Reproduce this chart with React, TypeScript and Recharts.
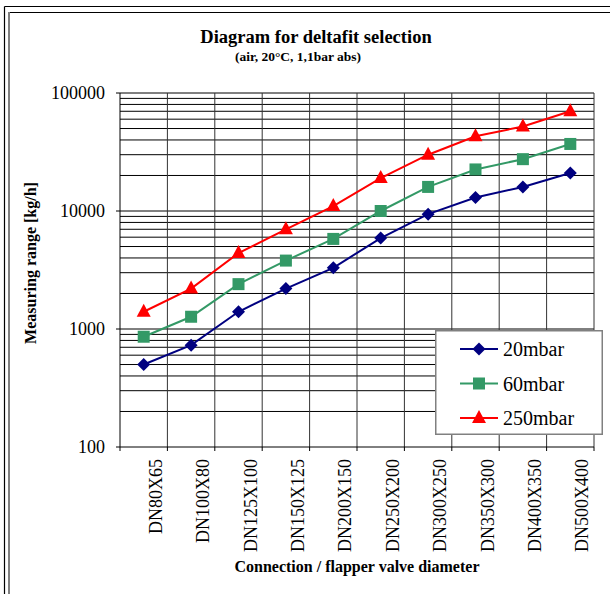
import React from 'react';
import { LineChart, Line, XAxis, YAxis, ReferenceLine, Legend } from 'recharts';

const FONT = '"Liberation Serif", "Times New Roman", Times, serif';

const categories = ['DN80X65', 'DN100X80', 'DN125X100', 'DN150X125', 'DN200X150', 'DN250X200', 'DN300X250', 'DN350X300', 'DN400X350', 'DN500X400'];
const mbar20 = [500, 730, 1400, 2200, 3300, 5900, 9400, 13000, 16000, 21000];
const mbar60 = [860, 1270, 2400, 3800, 5800, 10000, 16000, 22500, 27500, 37000];
const mbar250 = [1400, 2200, 4400, 7000, 11000, 19000, 30000, 43000, 52000, 70000];

const yTicks = [100, 1000, 10000, 100000];
const boundaryTicks = [0, 1, 2, 3, 4, 5, 6, 7, 8, 9, 10];
const multiples = [1, 2, 3, 4, 5, 6, 7, 8, 9];

const series = [
    { key: 'mbar20', name: '20mbar', color: '#000080', shape: 'diamond' },
    { key: 'mbar60', name: '60mbar', color: '#339966', shape: 'square' },
    { key: 'mbar250', name: '250mbar', color: '#FF0000', shape: 'triangle' },
];

// each category sits in the middle of its slot between two boundary ticks
const data = categories.map((name, i) => ({ name, pos: i + 0.5, mbar20: mbar20[i], mbar60: mbar60[i], mbar250: mbar250[i] }));

// every horizontal gridline: 1..9 x each decade, above the bottom axis
const gridValues = yTicks.slice(0, -1).flatMap((d) => multiples.map((m) => d * m)).filter((v) => v > yTicks[0]).concat(yTicks[yTicks.length - 1]);

const PLOT_LEFT = 120;
const PLOT_RIGHT = 16;
const HALF_SLOT = (610 - PLOT_LEFT - PLOT_RIGHT) / categories.length / 2;

const Marker = ({ shape, color, cx, cy }: { shape: string; color: string; cx: number; cy: number }) => {
    if (cx == null || cy == null) return null;
    if (shape === 'diamond') {
        return <path d={`M${cx},${cy - 6.5}L${cx + 6.5},${cy}L${cx},${cy + 6.5}L${cx - 6.5},${cy}Z`} fill={color} />;
    }
    if (shape === 'square') {
        return <rect x={cx - 6} y={cy - 6} width={12} height={12} fill={color} />;
    }
    return <path d={`M${cx},${cy - 8}L${cx + 7},${cy + 5}L${cx - 7},${cy + 5}Z`} fill={color} />;
};

const CategoryTick = (props: any) => {
    const { x, y, payload } = props;
    const label = categories[payload.value];
    if (!label) return null;
    const tx = x + HALF_SLOT + 18;
    const ty = y + 8;
    return (
        <text x={tx} y={ty} transform={`rotate(-90, ${tx}, ${ty})`} textAnchor="end" fontSize={18} style={{ fontFamily: FONT }} fill="#000">
            {label}
        </text>
    );
};

const LegendBox = () => (
    <svg width={168} height={105} style={{ display: 'block' }}>
        <rect x={0.75} y={0.75} width={166.5} height={103.5} fill="#fff" stroke="#808080" strokeWidth={1.5} />
        {series.map((s, i) => {
            const y = 19 + i * 34.5;
            return (
                <g key={s.key}>
                    <line x1={25} x2={63} y1={y} y2={y} stroke={s.color} strokeWidth={2} />
                    <Marker shape={s.shape} color={s.color} cx={44} cy={y} />
                    <text x={68} y={y + 7} fontSize={20} style={{ fontFamily: FONT }} fill="#000">{s.name}</text>
                </g>
            );
        })}
    </svg>
);

export default function App() {
    return (
        <div style={{ position: 'fixed', left: 0, top: 0, width: 610, height: 594, background: '#fff', overflow: 'hidden', fontFamily: FONT }}>
            <svg width={610} height={594} style={{ position: 'absolute', left: 0, top: 0, fontFamily: FONT }}>
                <line x1={4.5} y1={6.5} x2={610} y2={6.5} stroke="#000" strokeWidth={1.2} />
                <line x1={4.5} y1={6.5} x2={4.5} y2={594} stroke="#000" strokeWidth={1.2} />
                <line x1={8} y1={12.5} x2={610} y2={12.5} stroke="#000" strokeWidth={1.2} />
                <line x1={9} y1={12} x2={9} y2={594} stroke="#808080" strokeWidth={2} />
                <text x={316} y={43} textAnchor="middle" fontSize={18.5} fontWeight="bold">Diagram for deltafit selection</text>
                <text x={298} y={61} textAnchor="middle" fontSize={13.5} fontWeight="bold">(air, 20°C, 1,1bar abs)</text>
                <text x={36} y={263} transform="rotate(-90, 36, 263)" textAnchor="middle" fontSize={16} fontWeight="bold">Measuring range [kg/h]</text>
                <text x={357} y={572} textAnchor="middle" fontSize={16} fontWeight="bold">Connection / flapper valve diameter</text>
            </svg>
            <div style={{ position: 'absolute', left: 0, top: 0 }}>
                <LineChart width={610} height={594} data={data} margin={{ top: 93, right: PLOT_RIGHT, left: 0, bottom: 0 }}>
                    <XAxis
                        dataKey="pos"
                        type="number"
                        domain={[0, 10]}
                        allowDataOverflow
                        ticks={boundaryTicks}
                        interval={0}
                        tickSize={4}
                        tickMargin={0}
                        height={147}
                        axisLine={{ stroke: '#000' }}
                        tickLine={{ stroke: '#000' }}
                        tick={<CategoryTick />}
                    />
                    <YAxis
                        scale="log"
                        type="number"
                        domain={[100, 100000]}
                        allowDataOverflow
                        ticks={yTicks}
                        width={PLOT_LEFT}
                        tickSize={4}
                        tickMargin={11}
                        axisLine={{ stroke: '#000' }}
                        tickLine={{ stroke: '#000' }}
                        tick={{ fontSize: 18, fill: '#000', fontFamily: FONT }}
                    />
                    {gridValues.map((v) => (
                        <ReferenceLine key={`h${v}`} y={v} stroke="#000" strokeWidth={1} />
                    ))}
                    {boundaryTicks.slice(1).map((v) => (
                        <ReferenceLine key={`v${v}`} x={v} stroke="#333" strokeWidth={1} />
                    ))}
                    <Legend
                        layout="horizontal"
                        verticalAlign="middle"
                        align="center"
                        wrapperStyle={{ left: 435, top: 330, width: 168, height: 105 }}
                        content={() => <LegendBox />}
                    />
                    {series.map((s) => (
                        <Line
                            key={s.key}
                            dataKey={s.key}
                            name={s.name}
                            stroke={s.color}
                            strokeWidth={2}
                            dot={(p: any) => <Marker key={`${s.key}-${p.index}`} shape={s.shape} color={s.color} cx={p.cx} cy={p.cy} />}
                            activeDot={false}
                            isAnimationActive={false}
                        />
                    ))}
                </LineChart>
            </div>
        </div>
    );
}
